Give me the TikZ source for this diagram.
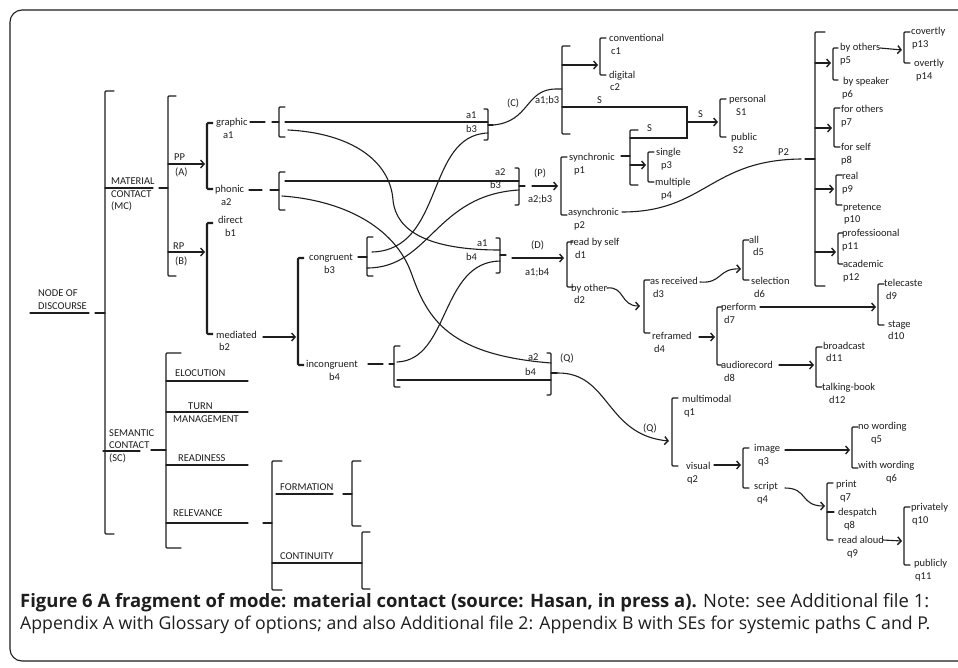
\documentclass[tikz,border=0pt]{standalone}
\usepackage{fontspec}
\setmainfont{Carlito}
\newfontfamily\capfont{Open Sans}
\usetikzlibrary{arrows.meta}
\definecolor{ink}{HTML}{1E1E1E}

% open bracket: [style]{x}{top}{bottom}{tick length} (negative tick = closing bracket)
\newcommand\obr[5][ln]{\draw[#1,rounded corners=1pt] (#2+#5,#3) -- (#2,#3) -- (#2,#4) -- (#2+#5,#4);}

\begin{document}
\begin{tikzpicture}[x=1pt,y=-1pt,
  ln/.style={line width=1.1pt, draw=ink, line cap=round},
  thk/.style={line width=2.1pt, draw=ink},
  arr/.style={ln, -{Straight Barb[length=3.5pt,width=8pt,line width=1.4pt]}},
  lbl/.style={anchor=base west, inner sep=0pt, text=ink, font=\fontsize{10.5}{12}\selectfont},
  captxt/.style={anchor=base west, inner sep=0pt, text=ink},
]
\useasboundingbox (0,0) rectangle (958,667);
\fill[white] (0,0) rectangle (958,667);
% outer frame
\draw[line width=1.1pt, draw=ink, rounded corners=12pt] (1000,10) -- (10,10) -- (10,661) -- (1000,661);

% ---------- left part: node of discourse ----------
\node[lbl] (nod1) at (38,296.5) {NODE OF};
\node[lbl] (nod2) at (38,309.5) {DISCOURSE};
\draw[ln] (30,313) -- (89,313);
\draw[ln] (95,313) -- (105,313);
\obr{105}{91}{534}{9}

\node[lbl] (mc1) at (111,184.5) {MATERIAL};
\node[lbl] (mc2) at (111,197.5) {CONTACT};
\node[lbl] (mc3) at (111,209.5) {(MC)};
\draw[ln] (105,188) -- (153,188);
\draw[ln] (159,188) -- (168,188);
\obr{168}{96}{276}{8}

\node[lbl] (pp) at (174,160.5) {PP};
\node[lbl] (ppa) at (175,175.5) {(A)};
\draw[arr] (168,164) -- (205,164);
\node[lbl] (rp) at (173,249.5) {RP};
\node[lbl] (rpb) at (175,264.5) {(B)};
\draw[arr] (168,252) -- (205,252);

\obr[thk]{207}{123}{189}{6}
\node[lbl] (graphic) at (216,125) {graphic};
\node[lbl] (ga1) at (223,138) {a1};
\node[lbl] (phonic) at (215,192) {phonic};
\node[lbl] (pa2) at (221,205) {a2};
\draw[ln] (250,122) -- (265,122);
\draw[ln] (272,122) -- (279,122);
\draw[ln] (249,190) -- (262,190);
\draw[ln] (270,190) -- (279,190);
\obr{279}{107}{137}{6}
\obr{279}{172}{210}{6}

\obr[thk]{207}{223}{334}{6}
\node[lbl] (direct) at (218,223) {direct};
\node[lbl] (db1) at (225,236) {b1};
\node[lbl] (mediated) at (216,338) {mediated};
\node[lbl] (mb2) at (219,350) {b2};
\draw[arr] (263,337) -- (296,337);

\obr[thk]{298}{258}{365}{6}
\node[lbl] (congruent) at (309,260) {congruent};
\node[lbl] (cb3) at (324,273) {b3};
\node[lbl] (incongruent) at (306,367) {incongruent};
\node[lbl] (ib4) at (329,380) {b4};
\draw[ln] (358,257) -- (367,257);
\obr{367}{237}{276}{6}
\draw[ln] (368,364) -- (383,364);
\draw[ln] (389,364) -- (394,364);
\obr{394}{346}{387}{6}

% ---------- semantic contact ----------
\node[lbl] (sc1) at (109,436.5) {SEMANTIC};
\node[lbl] (sc2) at (109,448.5) {CONTACT};
\node[lbl] (sc3) at (109,461.5) {(SC)};
\draw[ln] (103,451) -- (140,451);
\draw[ln] (151,450) -- (166,450);
\obr{166}{353}{548}{15}
\node[lbl] (eloc) at (175,376.5) {ELOCUTION};
\draw[ln] (166,381) -- (248,381);
\node[lbl] (turn) at (188,409.5) {TURN};
\draw[ln] (166,412) -- (248,412);
\node[lbl] (manag) at (173,422.5) {MANAGEMENT};
\node[lbl] (ready) at (178,461.5) {READINESS};
\draw[ln] (166,465) -- (248,465);
\node[lbl] (relev) at (173,516.5) {RELEVANCE};
\draw[ln] (166,523) -- (248,523);
\draw[ln] (263,523) -- (272,523);
\obr{272}{461}{590}{10}
\node[lbl] (form) at (280,490.5) {FORMATION};
\draw[ln] (276,494) -- (333,494);
\draw[ln] (343,494) -- (352,494);
\obr{352}{461}{526}{9}
\node[lbl] (cont) at (280,559.5) {CONTINUITY};
\draw[ln] (272,563) -- (362,563);
\obr{362}{532}{589}{8}

% ---------- crossing paths ----------
\draw[ln] (285,122) -- (488,122);
\node[lbl] at (466,118) {a1};
\node[lbl] at (466,132) {b3};
\obr{488}{109}{140}{-4}
\draw[ln] (488,125) -- (493,125);

\draw[ln] (285,181) -- (519,181);
\node[lbl] at (495,175) {a2};
\node[lbl] at (490,188) {b3};
\obr{519}{168}{205}{-4}
\draw[ln] (519,186) -- (525,186);

\node[lbl] at (477,246) {a1};
\node[lbl] at (466,260) {b4};
\obr{500}{238}{273}{-4}
\draw[ln] (500,255) -- (506,255);

\node[lbl] at (528,360) {a2};
\node[lbl] at (525,375) {b4};
\obr{551}{353}{395}{-4}
\draw[ln] (551,373) -- (557,373);

% graphic (lower) to a1 of a1/b4
\draw[ln] (288,130) .. controls (350,133) and (390,160) .. (393,200)
                    .. controls (396,232) and (430,250) .. (500,250);
% phonic (lower) to a2 of a2/b4
\draw[ln] (282,196) .. controls (340,200) and (395,225) .. (412,275)
                    .. controls (428,320) and (450,355) .. (551,363);
% congruent to b3 of a1/b3 and a2/b3
\draw[ln] (372,252) .. controls (445,250) and (425,135) .. (488,133);
\draw[ln] (367,268) .. controls (430,268) and (435,195) .. (519,190);
% incongruent to b4 of a1/b4 and a2/b4
\draw[ln] (397,362) .. controls (450,360) and (440,262) .. (500,261);
\draw[ln] (397,380) -- (551,380);

% ---------- system C ----------
\draw[ln] (493,125) .. controls (530,122) and (525,89) .. (556,89) -- (562,89);
\node[lbl] at (507,106) {(C)};
\node[lbl] at (535,103) {a1;b3};
\obr{562}{46}{134}{8}
\draw[arr] (562,65) -- (598,65);
\obr{600}{38}{75}{6}
\node[lbl] (c1t) at (609,41) {conventional};
\node[lbl] at (611,54) {c1};
\node[lbl] (c2t) at (609,78) {digital};
\node[lbl] at (610,90) {c2};

% S: simultaneous join
\draw[ln] (562,107) -- (687,107) -- (687,138) -- (630,138);
\node[lbl] at (597,103) {S};
\node[lbl] at (647,131) {S};
\draw[arr] (687,122) -- (718,122);
\node[lbl] at (698,117) {S};
\obr{720}{99}{137}{6}
\node[lbl] at (729,102) {personal};
\node[lbl] at (736,115) {S1};
\node[lbl] at (731,140) {public};
\node[lbl] at (733,153) {S2};

% ---------- system P ----------
\draw[arr] (532,186) -- (558,186);
\node[lbl] at (534,176) {(P)};
\node[lbl] at (528,202) {a2;b3};
\obr{561}{157}{215}{6}
\node[lbl] (sync) at (569,160) {synchronic};
\node[lbl] at (574,173) {p1};
\node[lbl] (async) at (568,215) {asynchronic};
\node[lbl] at (574,228) {p2};
\draw[ln] (621,156) -- (630,156);
\obr{630}{130}{185}{8}
\draw[arr] (630,165) -- (646,165);
\obr{648}{152}{182}{6}
\node[lbl] at (656,155) {single};
\node[lbl] at (661,168) {p3};
\node[lbl] at (655,185) {multiple};
\node[lbl] at (661,198) {p4};

\draw[ln] (622,212) .. controls (705,212) and (710,160) .. (801,159);
\node[lbl] at (778,155) {P2};
\draw[ln] (805,159) -- (815,159);
\obr{815}{32}{286}{10}
\draw[arr] (815,63) -- (831,63);
\draw[arr] (815,128) -- (832,128);
\draw[arr] (815,189) -- (834,189);
\draw[arr] (815,252) -- (836,252);

\obr{833}{48}{80}{5}
\node[lbl] at (840,50) {by others};
\node[lbl] at (840,63) {p5};
\node[lbl] at (843,84) {by speaker};
\node[lbl] at (842,97) {p6};
\draw[arr] (880,48) -- (902,50);
\obr{904}{32}{63}{6}
\node[lbl] at (911,34) {covertly};
\node[lbl] at (912,47) {p13};
\node[lbl] at (914,66) {overtly};
\node[lbl] at (916,79) {p14};

\obr{834}{108}{147}{6}
\node[lbl] at (841,112) {for others};
\node[lbl] at (841,125) {p7};
\node[lbl] at (841,150) {for self};
\node[lbl] at (841,163) {p8};

\obr{836}{175}{205}{6}
\node[lbl] at (842,179) {real};
\node[lbl] at (842,192) {p9};
\node[lbl] at (843,210) {pretence};
\node[lbl] at (844,222) {p10};

\obr{838}{233}{264}{5}
\node[lbl] at (842,236) {professioonal};
\node[lbl] at (842,249) {p11};
\node[lbl] at (843,267) {academic};
\node[lbl] at (843,280) {p12};

% ---------- system D ----------
\draw[arr] (512,258) -- (564,258);
\node[lbl] at (531,248) {(D)};
\node[lbl] at (525,275) {a1;b4};
\obr{567}{242}{287}{6}
\node[lbl] at (570,245) {read by self};
\node[lbl] at (575,258) {d1};
\node[lbl] at (571,291) {by other};
\node[lbl] at (574,303) {d2};
\draw[arr] (607,288) .. controls (625,286) and (620,306) .. (640,306);
\obr{644}{280}{333}{6}
\node[lbl] at (650,284) {as received};
\node[lbl] at (653,297) {d3};
\node[lbl] at (652,339) {reframed};
\node[lbl] at (654,352) {d4};
\draw[arr] (700,282) .. controls (722,284) and (718,268) .. (741,269);
\obr{743}{240}{280}{6}
\node[lbl] at (749,243) {all};
\node[lbl] at (753,255) {d5};
\node[lbl] at (751,284) {selection};
\node[lbl] at (754,297) {d6};

\draw[arr] (699,337) -- (715,337);
\obr{717}{307}{365}{5}
\node[lbl] at (721,310) {perform};
\node[lbl] at (724,323) {d7};
\node[lbl] at (721,368) {audiorecord};
\node[lbl] at (724,381) {d8};
\draw[arr] (760,307) -- (876,307);
\obr{878}{284}{325}{6}
\node[lbl] at (884,286) {telecaste};
\node[lbl] at (886,299) {d9};
\node[lbl] at (888,327) {stage};
\node[lbl] at (888,339) {d10};
\draw[arr] (779,365) -- (814,365);
\obr{816}{347}{387}{6}
\node[lbl] at (823,349) {broadcast};
\node[lbl] at (826,361) {d11};
\node[lbl] at (822,390) {talking-book};
\node[lbl] at (829,403) {d12};

% ---------- system Q ----------
\node[lbl] at (560,361) {(Q)};
\draw[arr] (557,373) .. controls (610,372) and (605,435) .. (669,441);
\node[lbl] at (643,431) {(Q)};
\obr{672}{398}{466}{6}
\node[lbl] at (682,402) {multimodal};
\node[lbl] at (684,415) {q1};
\node[lbl] at (686,469) {visual};
\node[lbl] at (687,482) {q2};
\draw[arr] (714,465) -- (741,465);
\obr{743}{448}{488}{6}
\node[lbl] at (754,451) {image};
\node[lbl] at (758,464) {q3};
\node[lbl] at (754,489) {script};
\node[lbl] at (757,502) {q4};
\draw[arr] (785,450) -- (850,450);
\obr{852}{427}{468}{6}
\node[lbl] at (858,429) {no wording};
\node[lbl] at (871,442) {q5};
\node[lbl] at (858,468) {with wording};
\node[lbl] at (886,481) {q6};
\draw[arr] (785,488) .. controls (808,488) and (800,506) .. (825,506);
\obr{827}{483}{540}{6}
\draw[ln] (827,512) -- (834,512);
\node[lbl] at (836,487) {print};
\node[lbl] at (840,500) {q7};
\node[lbl] at (838,515) {despatch};
\node[lbl] at (844,528) {q8};
\node[lbl] at (838,543) {read aloud};
\node[lbl] at (847,556) {q9};
\draw[arr] (883,540) -- (902,541);
\obr{904}{507}{565}{6}
\node[lbl] at (911,510) {privately};
\node[lbl] at (912,523) {q10};
\node[lbl] at (914,566) {publicly};
\node[lbl] at (915,579) {q11};

% ---------- caption ----------
\node[captxt] (cap1) at (20,607)
  {\resizebox{909pt}{!}{\capfont\textbf{Figure 6 A fragment of mode: material contact (source: Hasan, in press a).} Note: see Additional file 1:}};
\node[captxt] (cap2) at (20,629)
  {\resizebox{910pt}{!}{\capfont Appendix A with Glossary of options; and also Additional file 2: Appendix B with SEs for systemic paths C and P.}};
\end{tikzpicture}
\end{document}
